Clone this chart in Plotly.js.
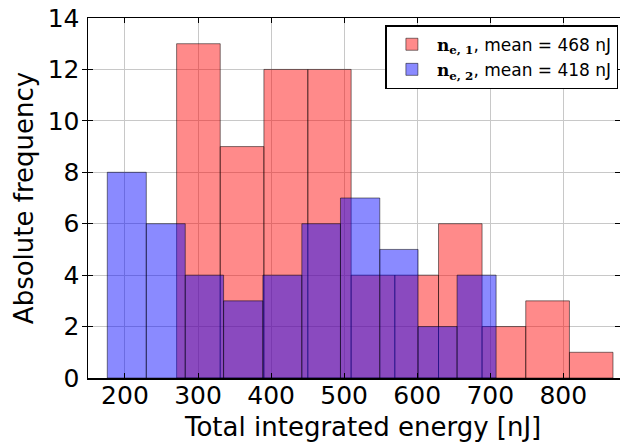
<!DOCTYPE html>
<html>
<head>
<meta charset="utf-8">
<script src="https://cdn.plot.ly/plotly-3.0.1.min.js"></script>
<style>html,body{margin:0;padding:0;background:#fff;}#chart{width:620px;height:446px;}</style>
</head>
<body>
<div id="chart"></div>
<script>
// Bin edges (nJ) and counts
const redEdges  = [270.7, 330.4, 390.2, 450.3, 509.6, 569.4, 629.2, 688.8, 748.6, 808.4, 868.0];
const redCounts = [13, 9, 12, 12, 4, 4, 6, 2, 3, 1];
const blueEdges  = [175.8, 229.2, 282.5, 335.0, 388.8, 442.1, 495.0, 548.8, 601.2, 654.6, 708.0];
const blueCounts = [8, 6, 4, 3, 4, 6, 7, 5, 2, 4];
const redLabel  = '<span style="font-family:\'DejaVu Serif\'"><b>n</b><sub><b>e, 1</b></sub></span>, mean = 468 nJ';
const blueLabel = '<span style="font-family:\'DejaVu Serif\'"><b>n</b><sub><b>e, 2</b></sub></span>, mean = 418 nJ';
const xTitle = 'Total integrated energy [nJ]';
const yTitle = 'Absolute frequency';
const xTicks = [200, 300, 400, 500, 600, 700, 800];
const yTicks = [0, 2, 4, 6, 8, 10, 12, 14];

function histTrace(edges, counts, color, name) {
  return {
    type: 'bar',
    x: edges.slice(0, -1),
    y: counts,
    width: edges.slice(1).map((e, i) => e - edges[i]),
    offset: 0,
    name: name,
    marker: {color: color, line: {color: 'rgba(0,0,0,0.5)', width: 1}},
    hoverinfo: 'skip'
  };
}

const data = [
  histTrace(redEdges, redCounts, 'rgba(255,0,0,0.46)', redLabel),
  histTrace(blueEdges, blueCounts, 'rgba(0,0,255,0.46)', blueLabel),
  // carrier for the tick-label axis (no marks)
  {type: 'scatter', x: [], y: [], xaxis: 'x2', yaxis: 'y', showlegend: false, hoverinfo: 'skip'}
];

const tickFont = {family: 'DejaVu Sans', size: 25, color: '#000'};
const axisCommon = {
  showline: true, linecolor: '#000', linewidth: 1.5, mirror: 'allticks',
  ticks: 'inside', ticklen: 5, tickcolor: '#000', tickwidth: 1,
  showgrid: true, gridcolor: '#c8c8c8', gridwidth: 1, zeroline: false,
  tickfont: tickFont
};
const xRange = [149.4, 877.6];

const layout = {
  width: 620, height: 446,
  margin: {l: 88, r: 0, t: 18, b: 68},
  paper_bgcolor: '#fff', plot_bgcolor: '#fff',
  barmode: 'overlay', bargap: 0,
  showlegend: true,
  font: {family: 'DejaVu Sans', color: '#000'},
  xaxis: Object.assign({}, axisCommon, {
    range: xRange, tickvals: xTicks, showticklabels: false
  }),
  xaxis2: {
    overlaying: 'x', anchor: 'free', position: 0, side: 'bottom',
    range: xRange, tickvals: xTicks, ticktext: xTicks.map(String),
    showline: false, showgrid: false, zeroline: false, ticks: '',
    tickfont: tickFont
  },
  yaxis: Object.assign({}, axisCommon, {
    range: [0, 14], tickvals: yTicks, ticktext: yTicks.map(String),
    ticklabelstandoff: 2,
    title: {text: yTitle, font: {family: 'DejaVu Sans', size: 26, color: '#000'}, standoff: 6}
  }),
  annotations: [{
    text: xTitle, xref: 'paper', yref: 'paper',
    x: (362 - 88) / 532, y: (378 - 427) / 360, xanchor: 'center', yanchor: 'middle',
    showarrow: false, font: {family: 'DejaVu Sans', size: 26, color: '#000'}
  }],
  legend: {
    x: 0.997, y: 0.98, xanchor: 'right', yanchor: 'top',
    bgcolor: '#fff', bordercolor: '#000', borderwidth: 1.5,
    font: {family: 'DejaVu Sans', size: 17, color: '#000'},
    tracegroupgap: 0, itemwidth: 40
  }
};

Plotly.newPlot('chart', data, layout, {staticPlot: true, displayModeBar: false});
</script>
</body>
</html>
